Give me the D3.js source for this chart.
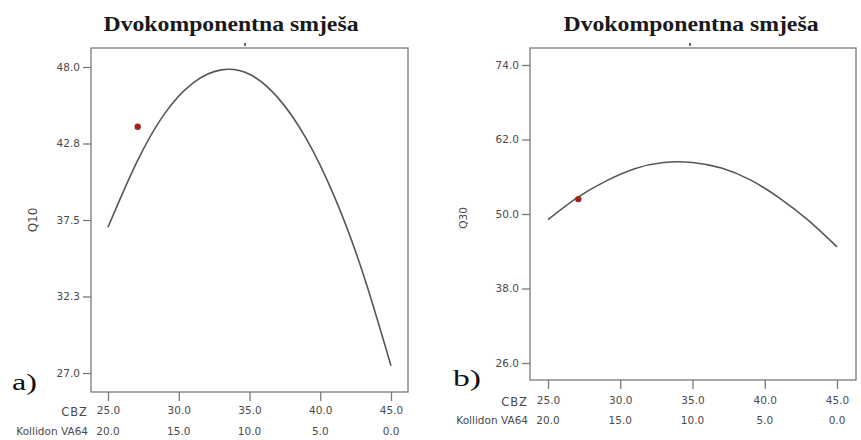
<!DOCTYPE html>
<html>
<head>
<meta charset="utf-8">
<script src="https://cdn.jsdelivr.net/npm/d3@7"></script>
<style>
  body { margin: 0; background: #fff; }
</style>
</head>
<body>
<script>
// mixture plots: CBZ / Kollidon VA64

let width = 861;
let height = 440;

// data
const cbz = [25, 27, 29, 31, 33, 35, 37, 39, 41, 43, 45];
const q10 = [37.0, 41.4, 44.8, 46.9, 47.8, 47.5, 45.9, 43.1, 39.1, 33.9, 27.5];
const q30 = [49.1, 52.6, 55.3, 57.3, 58.3, 58.3, 57.4, 55.5, 52.6, 49.0, 44.7];

const cbzTicks = [25, 30, 35, 40, 45];
const cbzLabels = ["25.0", "30.0", "35.0", "40.0", "45.0"];
const kollidonLabels = ["20.0", "15.0", "10.0", "5.0", "0.0"];

const q10Ticks = [48.0, 42.75, 37.5, 32.25, 27.0];
const q10Labels = ["48.0", "42.8", "37.5", "32.3", "27.0"];
const q30Ticks = [74, 62, 50, 38, 26];
const q30Labels = ["74.0", "62.0", "50.0", "38.0", "26.0"];

const q10Point = [27.1, 43.9];
const q30Point = [27.1, 52.4];

// colours
let frame_color = "#7f7770";
let text_color = "#4a4a4a";
let curve_color = "#5a5555";
let point_color = "#a3261e";

let svg = d3.select("body")
  .append("svg")
  .attr("width", width)
  .attr("height", height)
  .style("font-family", "'DejaVu Sans', sans-serif");

// panel layout (pixels)
const panels = [
  {
    values: q10, point: q10Point, yTicks: q10Ticks, yLabels: q10Labels, yName: "Q10", tag: "a)",
    left: 91, right: 408, top: 48, bottom: 392,
    xRange: [108, 391], yDomain: [27, 48], yRange: [373, 67],
    titleX: 231, yNameX: 33, yNameY: 220, yNameSize: 12,
    row1: 20, row2: 39, tagX: 12, tagY: 390, tagLen: 25, tagSize: 23,
    markX: 245
  },
  {
    values: q30, point: q30Point, yTicks: q30Ticks, yLabels: q30Labels, yName: "Q30", tag: "b)",
    left: 530, right: 856, top: 48, bottom: 380,
    xRange: [548, 837], yDomain: [26, 74], yRange: [363, 65],
    titleX: 691, yNameX: 463, yNameY: 218, yNameSize: 10.5,
    row1: 22, row2: 40, tagX: 453, tagY: 386, tagLen: 28, tagSize: 24,
    markX: 690
  }
];

panels.forEach(p => {
  let x = d3.scaleLinear().domain([25, 45]).range(p.xRange);
  let y = d3.scaleLinear().domain(p.yDomain).range(p.yRange);
  let g = svg.append("g");

  // title
  g.append("text")
    .attr("x", p.titleX)
    .attr("y", 31)
    .attr("text-anchor", "middle")
    .attr("textLength", 255)
    .attr("lengthAdjust", "spacingAndGlyphs")
    .style("font-family", "'Liberation Serif', 'Times New Roman', serif")
    .style("font-weight", "bold")
    .style("font-size", "21px")
    .attr("fill", "#1a1a1a")
    .text("Dvokomponentna smješa");

  g.append("line")
    .attr("x1", p.markX).attr("x2", p.markX)
    .attr("y1", 43).attr("y2", 46)
    .attr("stroke", "#333")
    .attr("stroke-width", 1.5);

  // frame
  g.append("rect")
    .attr("x", p.left)
    .attr("y", p.top)
    .attr("width", p.right - p.left)
    .attr("height", p.bottom - p.top)
    .attr("fill", "none")
    .attr("stroke", frame_color)
    .attr("stroke-width", 1.3);

  // y axis
  let yAxis = g.append("g")
    .attr("transform", `translate(${p.left},0)`)
    .call(d3.axisLeft(y)
      .tickValues(p.yTicks)
      .tickFormat((d, i) => p.yLabels[i])
      .tickSize(8)
      .tickPadding(3));
  yAxis.select(".domain").remove();
  yAxis.selectAll("line").attr("stroke", frame_color).attr("stroke-width", 1.3);
  yAxis.selectAll("text")
    .attr("fill", text_color)
    .style("font-size", "10.5px")
    .style("font-family", "'DejaVu Sans', sans-serif");

  // x axis (CBZ row)
  let xAxis = g.append("g")
    .attr("transform", `translate(0,${p.bottom})`)
    .call(d3.axisBottom(x)
      .tickValues(cbzTicks)
      .tickFormat((d, i) => cbzLabels[i])
      .tickSize(9)
      .tickPadding(p.row1 - 14));
  xAxis.select(".domain").remove();
  xAxis.selectAll("line").attr("stroke", frame_color).attr("stroke-width", 1.3);
  xAxis.selectAll("text")
    .attr("fill", text_color)
    .style("font-size", "10.5px")
    .style("font-family", "'DejaVu Sans', sans-serif");

  // Kollidon row
  g.selectAll(".kol")
    .data(cbzTicks)
    .enter().append("text")
    .attr("x", d => x(d))
    .attr("y", p.bottom + p.row2 + 4)
    .attr("text-anchor", "middle")
    .attr("fill", text_color)
    .style("font-size", "10.5px")
    .text((d, i) => kollidonLabels[i]);

  g.append("text")
    .attr("x", p.xRange[0] - 20)
    .attr("y", p.bottom + p.row1 + 4)
    .attr("text-anchor", "end")
    .attr("fill", text_color)
    .style("font-size", "11.5px")
    .style("letter-spacing", "1px")
    .text("CBZ");

  g.append("text")
    .attr("x", p.xRange[0] - 20)
    .attr("y", p.bottom + p.row2 + 4)
    .attr("text-anchor", "end")
    .attr("fill", text_color)
    .style("font-size", "10.5px")
    .text("Kollidon VA64");

  // y name
  g.append("text")
    .attr("transform", `translate(${p.yNameX},${p.yNameY}) rotate(-90)`)
    .attr("text-anchor", "middle")
    .attr("dy", "0.35em")
    .attr("fill", text_color)
    .style("font-size", p.yNameSize + "px")
    .text(p.yName);

  // fitted curve
  let line = d3.line()
    .x((d, i) => x(cbz[i]))
    .y(d => y(d))
    .curve(d3.curveNatural);

  g.append("path")
    .datum(p.values)
    .attr("d", line)
    .attr("fill", "none")
    .attr("stroke", curve_color)
    .attr("stroke-width", 1.6);

  // design point
  g.append("circle")
    .attr("cx", x(p.point[0]))
    .attr("cy", y(p.point[1]))
    .attr("r", 3.2)
    .attr("fill", point_color);

  // panel tag
  g.append("text")
    .attr("x", p.tagX)
    .attr("y", p.tagY)
    .attr("textLength", p.tagLen)
    .attr("lengthAdjust", "spacingAndGlyphs")
    .style("font-family", "'Liberation Serif', 'Times New Roman', serif")
    .style("font-size", p.tagSize + "px")
    .attr("fill", "#111")
    .text(p.tag);
});
</script>
</body>
</html>
